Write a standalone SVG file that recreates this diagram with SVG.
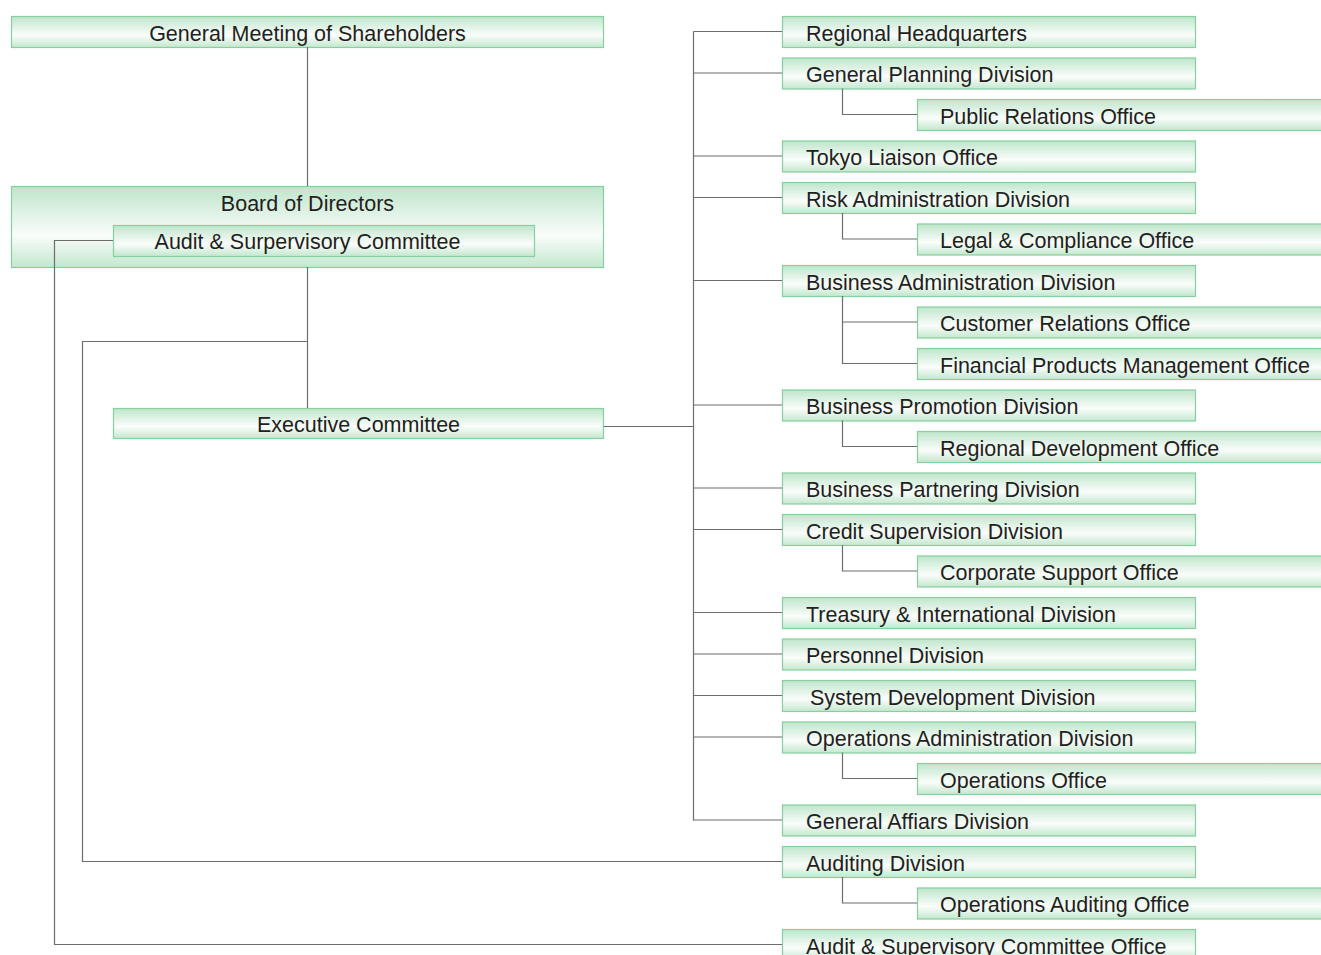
<svg xmlns="http://www.w3.org/2000/svg" width="1321" height="955" viewBox="0 0 1321 955">
<defs>
<linearGradient id="g" x1="0" y1="0" x2="0" y2="1">
<stop offset="0" stop-color="#bfe5cb"/>
<stop offset="0.6" stop-color="#fafdfb"/>
<stop offset="1" stop-color="#c3e7ce"/>
</linearGradient>
<style>
.b{fill:url(#g);stroke:#86cf9e;stroke-width:1.2}
.t{font-family:"Liberation Sans",Arial,sans-serif;font-size:21.5px;fill:#231f20}
.c{text-anchor:middle}
.l{fill:none;stroke:#6d6d6d;stroke-width:1.2}
</style>
</defs>
<rect width="1321" height="955" fill="#ffffff"/>
<g id="n-gms"><rect class="b" x="11.5" y="16.5" width="592" height="31"/><text class="t c" x="307.5" y="40.5">General Meeting of Shareholders</text></g>
<g id="n-board"><rect class="b" x="11.5" y="186.5" width="592" height="81"/><text class="t c" x="307.5" y="210.5">Board of Directors</text></g>
<g id="n-asc"><rect class="b" x="113.5" y="225.5" width="421" height="31"/><text class="t c" x="307.5" y="248.5">Audit &amp; Surpervisory Committee</text></g>
<g id="n-exec"><rect class="b" x="113.5" y="408.5" width="490" height="30"/><text class="t c" x="358.5" y="431.5">Executive Committee</text></g>
<g id="n-r0"><rect class="b" x="782.5" y="16.5" width="413" height="31"/><text class="t" x="806" y="40.5">Regional Headquarters</text></g>
<g id="n-r1"><rect class="b" x="782.5" y="58" width="413" height="31"/><text class="t" x="806" y="82">General Planning Division</text></g>
<g id="n-r2"><rect class="b" x="917.5" y="99.5" width="410" height="31"/><text class="t" x="940" y="123.5">Public Relations Office</text></g>
<g id="n-r3"><rect class="b" x="782.5" y="141" width="413" height="31"/><text class="t" x="806" y="165">Tokyo Liaison Office</text></g>
<g id="n-r4"><rect class="b" x="782.5" y="182.5" width="413" height="31"/><text class="t" x="806" y="206.5">Risk Administration Division</text></g>
<g id="n-r5"><rect class="b" x="917.5" y="224" width="410" height="31"/><text class="t" x="940" y="248">Legal &amp; Compliance Office</text></g>
<g id="n-r6"><rect class="b" x="782.5" y="265.5" width="413" height="31"/><text class="t" x="806" y="289.5">Business Administration Division</text></g>
<g id="n-r7"><rect class="b" x="917.5" y="307" width="410" height="31"/><text class="t" x="940" y="331">Customer Relations Office</text></g>
<g id="n-r8"><rect class="b" x="917.5" y="348.5" width="410" height="31"/><text class="t" x="940" y="372.5">Financial Products Management Office</text></g>
<g id="n-r9"><rect class="b" x="782.5" y="390" width="413" height="31"/><text class="t" x="806" y="414">Business Promotion Division</text></g>
<g id="n-r10"><rect class="b" x="917.5" y="431.5" width="410" height="31"/><text class="t" x="940" y="455.5">Regional Development Office</text></g>
<g id="n-r11"><rect class="b" x="782.5" y="473" width="413" height="31"/><text class="t" x="806" y="497">Business Partnering Division</text></g>
<g id="n-r12"><rect class="b" x="782.5" y="514.5" width="413" height="31"/><text class="t" x="806" y="538.5">Credit Supervision Division</text></g>
<g id="n-r13"><rect class="b" x="917.5" y="556" width="410" height="31"/><text class="t" x="940" y="580">Corporate Support Office</text></g>
<g id="n-r14"><rect class="b" x="782.5" y="597.5" width="413" height="31"/><text class="t" x="806" y="621.5">Treasury &amp; International Division</text></g>
<g id="n-r15"><rect class="b" x="782.5" y="639" width="413" height="31"/><text class="t" x="806" y="663">Personnel Division</text></g>
<g id="n-r16"><rect class="b" x="782.5" y="680.5" width="413" height="31"/><text class="t" x="810" y="704.5">System Development Division</text></g>
<g id="n-r17"><rect class="b" x="782.5" y="722" width="413" height="31"/><text class="t" x="806" y="746">Operations Administration Division</text></g>
<g id="n-r18"><rect class="b" x="917.5" y="763.5" width="410" height="31"/><text class="t" x="940" y="787.5">Operations Office</text></g>
<g id="n-r19"><rect class="b" x="782.5" y="805" width="413" height="31"/><text class="t" x="806" y="829">General Affiars Division</text></g>
<g id="n-r20"><rect class="b" x="782.5" y="846.5" width="413" height="31"/><text class="t" x="806" y="870.5">Auditing Division</text></g>
<g id="n-r21"><rect class="b" x="917.5" y="888" width="410" height="31"/><text class="t" x="940" y="912">Operations Auditing Office</text></g>
<g id="n-r22"><rect class="b" x="782.5" y="929.5" width="413" height="31"/><text class="t" x="806" y="953.5">Audit &amp; Supervisory Committee Office</text></g>
<g id="connectors">
<path class="l" d="M307.5 47V186M307.5 267V408M307.5 341.5H82.5V861.5H782M113 240.5H54.5V944.5H782"/>
<path class="l" d="M604 426.5H693.5M693.5 31.5V820.5"/>
<path class="l" d="M693.5 31.5H782M693.5 73H782M693.5 156H782M693.5 197.5H782M693.5 280.5H782M693.5 405H782M693.5 488H782M693.5 529.5H782M693.5 612.5H782M693.5 654H782M693.5 695.5H782M693.5 737H782M693.5 820H782"/>
<path class="l" d="M842.5 88.5V114.5H917M842.5 213V239H917M842.5 296V363.5H917M842.5 322H917M842.5 420.5V446.5H917M842.5 545V571H917M842.5 752.5V778.5H917M842.5 877V903H917"/>
</g>
</svg>
